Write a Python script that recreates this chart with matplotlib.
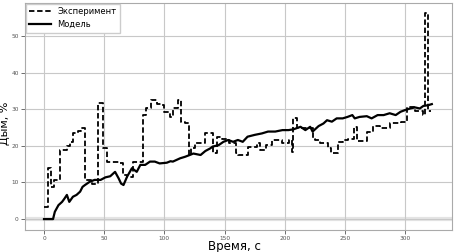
import matplotlib
matplotlib.use('Agg')
import matplotlib.pyplot as plt

# experiment (step data): time, smoke %
exp_t = [0, 3, 6, 8, 13, 19, 22, 24, 28, 31, 34, 40, 45, 49, 52, 62, 66, 69, 74,
         82, 85, 89, 94, 98, 100, 105, 107, 111, 114, 117, 120, 122, 125, 134,
         140, 144, 148, 154, 159, 161, 169, 177, 179, 184, 189, 198, 203, 206,
         207, 210, 223, 225, 229, 236, 238, 244, 248, 252, 257, 260, 268, 273,
         279, 287, 296, 301, 308, 315, 316, 319, 321]
exp_v = [3.4, 14, 8.8, 10.7, 19, 20, 21, 23.6, 24, 25, 10.7, 9.5, 31.8, 19.4,
         15.7, 15.3, 12, 11.6, 15.5, 28.4, 30.3, 32.5, 31.4, 31.1, 29.3, 28,
         30.3, 32.5, 26.6, 26.2, 17.5, 19.4, 20.7, 23.4, 18, 22.5, 22, 20.7,
         18, 17.5, 19.8, 20.8, 18.9, 20.2, 21.6, 20.8, 21.6, 18.4, 27.6, 25,
         22, 21.6, 20.7, 19.4, 18, 21, 21.6, 22, 25.2, 21.3, 23.9, 25.4, 24.9,
         26.2, 26.6, 30.7, 29.5, 28.5, 56.2, 29.5, 29.5]

# model
mod_t = [0, 7.5, 9, 12, 15, 17, 19, 21, 24, 27, 30, 32, 34, 38, 42, 47, 51, 55,
         59, 62, 64, 66, 69, 73, 77, 80, 84, 88, 92, 96, 102, 105, 107, 113,
         117, 121, 124, 130, 134, 138, 140, 145, 149, 153, 157, 161, 165, 169,
         175, 181, 186, 192, 198, 203, 207, 213, 217, 221, 223, 228, 232, 235,
         239, 243, 248, 252, 256, 258, 262, 268, 272, 277, 282, 287, 292, 296,
         300, 304, 308, 312, 315, 319, 322]
mod_v = [0, 0, 2, 3.8, 4.7, 5.6, 6.6, 4.7, 6.1, 6.6, 7.5, 8.8, 9.3, 10.2, 10.7,
         10.7, 11.4, 11.7, 12.9, 11.1, 9.7, 9.3, 11.6, 13.9, 12.9, 14.8, 14.8,
         15.7, 15.7, 15.2, 15.4, 15.8, 15.7, 16.6, 17, 17.5, 17.9, 17.5, 18.6,
         19.3, 19.8, 20.2, 21.1, 21.6, 21.1, 21.6, 21.1, 22.5, 23, 23.4, 23.9,
         23.9, 24.3, 24.3, 24.5, 25.2, 24.3, 25.2, 23.9, 25.4, 26.1, 27, 26.6,
         27.5, 27.5, 27.9, 28.4, 27.5, 27.9, 28.1, 27.5, 28.4, 28.4, 28.9, 28.4,
         29.3, 29.8, 30.2, 30.5, 30.2, 30.9, 31.1, 31.4]

fig = plt.figure(figsize=(4.54, 2.52), dpi=100)
ax = fig.add_axes([0.055, 0.087, 0.941, 0.901])

ax.axhline(0, color='#e4e4e4', lw=3, zorder=0)
ax.plot(exp_t, exp_v, 'k--', lw=1.3, dashes=(3, 1.5), drawstyle='steps-post',
        label='Эксперимент')
ax.plot(mod_t, mod_v, 'k-', lw=1.6, label='Модель')

ax.set_xlim(-15.8, 338.9)
ax.set_ylim(-3.0, 59.0)
ax.set_xticks([0, 50, 100, 150, 200, 250, 300])
ax.set_yticks([0, 10, 20, 30, 40, 50])
ax.grid(True, color='#c8c8c8', lw=0.8)
ax.tick_params(labelsize=4.2, colors='#555555', length=3, width=0.6, pad=1.5)
for s in ax.spines.values():
    s.set_color('#aaaaaa')
    s.set_linewidth(0.8)

ax.set_xlabel('Время, с', fontsize=8.5)
ax.xaxis.set_label_coords(0.49, -0.072)
ax.xaxis.label.set_va('center')
ax.set_ylabel('Дым, %', fontsize=8)
ax.yaxis.set_label_coords(-0.047, 0.47)
ax.yaxis.label.set_va('center')
ax.legend(loc='upper left', fontsize=6, handlelength=2.6, borderaxespad=0.1,
          framealpha=1, edgecolor='#cccccc', fancybox=False)

fig.savefig('out.png', dpi=100)
